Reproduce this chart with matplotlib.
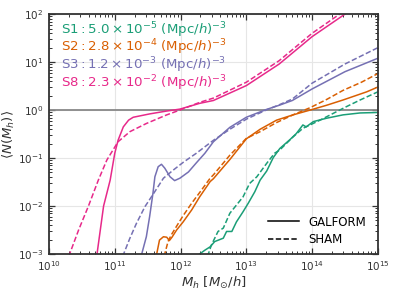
import numpy as np
import matplotlib
matplotlib.use("Agg")
import matplotlib.pyplot as plt
from matplotlib.lines import Line2D

# values, stored as log10(M_h) and log10(<N>)
s8_gal_logm = [10.73, 10.78, 10.83, 10.93, 11.0, 11.05, 11.13, 11.21, 11.28, 11.53, 11.79, 11.99, 12.29, 12.5, 13.0, 13.5, 14.0, 14.5, 14.56]
s8_gal_logn = [-3.0, -2.5, -2.0, -1.46, -0.9, -0.63, -0.35, -0.21, -0.15, -0.08, -0.02, 0.02, 0.14, 0.2, 0.51, 0.96, 1.53, 2.0, 2.08]
s8_sham_logm = [10.30, 10.45, 10.60, 10.75, 10.88, 11.05, 11.23, 11.48, 11.79, 11.99, 12.29, 12.5, 13.0, 13.5, 14.0, 14.45, 14.52]
s8_sham_logn = [-3.05, -2.5, -2.0, -1.46, -1.04, -0.66, -0.45, -0.28, -0.10, 0.0, 0.16, 0.25, 0.58, 1.03, 1.6, 2.03, 2.12]

s3_gal_logm = [11.40, 11.48, 11.53, 11.58, 11.61, 11.66, 11.71, 11.76, 11.84, 11.91, 11.99, 12.12, 12.24, 12.37, 12.5, 12.75, 13.0, 13.3, 13.5, 13.7, 14.0, 14.5, 15.0]
s3_gal_logn = [-3.05, -2.64, -2.22, -1.74, -1.39, -1.18, -1.13, -1.21, -1.39, -1.47, -1.42, -1.29, -1.1, -0.9, -0.66, -0.36, -0.15, 0.01, 0.1, 0.2, 0.44, 0.8, 1.08]
s3_sham_logm = [11.12, 11.23, 11.33, 11.46, 11.59, 11.74, 11.89, 12.04, 12.24, 12.5, 12.75, 13.0, 13.3, 13.5, 13.7, 14.0, 14.5, 15.0]
s3_sham_logn = [-3.05, -2.67, -2.36, -2.01, -1.74, -1.42, -1.25, -1.09, -0.9, -0.63, -0.4, -0.19, 0.0, 0.11, 0.23, 0.56, 0.96, 1.3]

s2_gal_logm = [11.63, 11.68, 11.74, 11.79, 11.83, 11.87, 11.94, 12.04, 12.17, 12.29, 12.45, 12.5, 12.75, 13.0, 13.21, 13.46, 13.71, 13.97, 14.22, 14.47, 14.83, 15.0]
s2_gal_logn = [-3.05, -2.71, -2.64, -2.65, -2.72, -2.65, -2.5, -2.33, -2.08, -1.81, -1.49, -1.43, -1.03, -0.6, -0.4, -0.21, -0.1, 0.0, 0.1, 0.21, 0.38, 0.48]
s2_sham_logm = [11.75, 11.81, 11.86, 11.94, 12.04, 12.17, 12.29, 12.45, 12.5, 12.75, 13.0, 13.21, 13.46, 13.71, 13.97, 14.22, 14.47, 14.75, 15.0]
s2_sham_logn = [-3.05, -2.74, -2.6, -2.42, -2.2, -1.94, -1.72, -1.42, -1.35, -0.94, -0.59, -0.45, -0.26, -0.1, 0.05, 0.22, 0.41, 0.58, 0.76]

s1_gal_logm = [12.24, 12.37, 12.45, 12.52, 12.65, 12.70, 12.78, 12.85, 12.95, 13.03, 13.13, 13.21, 13.31, 13.41, 13.51, 13.66, 13.76, 13.86, 13.91, 14.02, 14.22, 14.47, 14.73, 15.0]
s1_gal_logn = [-3.05, -2.92, -2.85, -2.74, -2.67, -2.53, -2.53, -2.33, -2.12, -1.94, -1.7, -1.46, -1.27, -0.99, -0.8, -0.62, -0.49, -0.31, -0.35, -0.24, -0.17, -0.1, -0.06, -0.05]
s1_sham_logm = [12.41, 12.47, 12.57, 12.65, 12.75, 12.85, 12.95, 13.05, 13.16, 13.31, 13.43, 13.51, 13.71, 13.86, 13.97, 14.12, 14.32, 14.52, 14.73, 15.0]
s1_sham_logn = [-3.05, -2.81, -2.53, -2.46, -2.15, -1.98, -1.81, -1.53, -1.39, -1.11, -0.9, -0.83, -0.56, -0.38, -0.31, -0.21, -0.07, 0.07, 0.21, 0.38]

labels = [r'$\mathrm{S1}:5.0\times10^{-5}$ (Mpc/$h)^{-3}$',
          r'$\mathrm{S2}:2.8\times10^{-4}$ (Mpc/$h)^{-3}$',
          r'$\mathrm{S3}:1.2\times10^{-3}$ (Mpc/$h)^{-3}$',
          r'$\mathrm{S8}:2.3\times10^{-2}$ (Mpc/$h)^{-3}$']
colors = ['#1b9e77', '#d95f02', '#7570b3', '#e7298a']

series = [
    (s1_gal_logm, s1_gal_logn, s1_sham_logm, s1_sham_logn),
    (s2_gal_logm, s2_gal_logn, s2_sham_logm, s2_sham_logn),
    (s3_gal_logm, s3_gal_logn, s3_sham_logm, s3_sham_logn),
    (s8_gal_logm, s8_gal_logn, s8_sham_logm, s8_sham_logn),
]

fig = plt.figure(figsize=(3.99, 2.94), dpi=100)
ax = fig.add_axes([0.1228, 0.136, 0.8242, 0.816])

ax.grid(True, which='major', color='#e6e6e6', lw=0.8)
ax.set_axisbelow(True)
ax.axhline(1.0, color='#888888', lw=1.3, zorder=1.5)

for (gm, gn, sm, sn), c in zip(series, colors):
    ax.plot(10**np.array(gm), 10**np.array(gn), color=c, lw=1.1, ls='-')
    ax.plot(10**np.array(sm), 10**np.array(sn), color=c, lw=1.1, ls='--', dashes=(3.5, 1.6))

ax.set_xscale('log')
ax.set_yscale('log')
ax.set_xlim(1e10, 1e15)
ax.set_ylim(1e-3, 1e2)

ax.tick_params(which='both', direction='in', top=True, right=True, colors='#333333',
               labelsize=7.5, labelcolor='#333333')
ax.tick_params(which='major', length=4, width=0.9, pad=4)
ax.tick_params(which='minor', length=2.2, width=0.7)
for s in ax.spines.values():
    s.set_color('#333333')
    s.set_linewidth(1.3)

ax.set_xlabel(r'$M_h\ [M_{\odot}/h]$', fontsize=9.5, color='#333333', labelpad=1)
ax.set_ylabel(r'$\langle N(M_h)\rangle$', fontsize=9.5, color='#333333', labelpad=1)

for i, (lab, c) in enumerate(zip(labels, colors)):
    ax.text(0.035, 0.935 - i * 0.074, lab, color=c, fontsize=9.6,
            transform=ax.transAxes, va='center', ha='left')

handles = [Line2D([], [], color='black', lw=1.1, ls='-'),
           Line2D([], [], color='black', lw=1.1, ls='--', dashes=(3.5, 1.6))]
ax.legend(handles, ['GALFORM', 'SHAM'], loc='lower right', frameon=False,
          fontsize=8.5, handlelength=2.6, handletextpad=0.8, borderaxespad=0.3,
          labelspacing=0.35, bbox_to_anchor=(0.99, 0.0))

fig.savefig('out.png', dpi=100)
